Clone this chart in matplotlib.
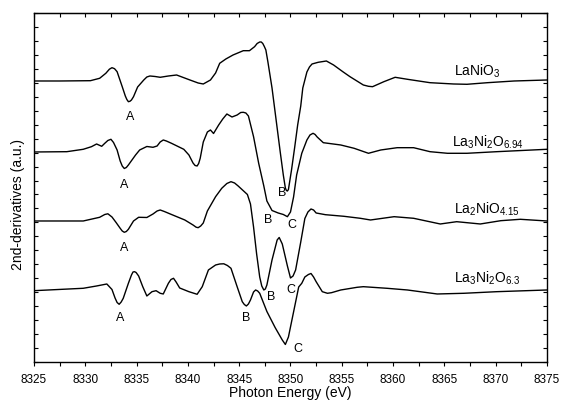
"""
Stacked second-derivative XANES spectra at the Ni K-edge.
Output: out.png
"""

import matplotlib
matplotlib.use("Agg")
import matplotlib.pyplot as plt
from matplotlib.ticker import MultipleLocator

plt.rcParams["font.family"] = ["Liberation Sans", "DejaVu Sans"]
plt.rcParams["mathtext.default"] = "regular"

# ---- data (energy in eV, signal relative to baseline) ----
e_lanio3 = [8325.0, 8327.5, 8330.5, 8331.4, 8332.0, 8332.35, 8332.6, 8332.85, 8333.1,
            8333.6, 8333.9, 8334.05, 8334.2, 8334.35, 8334.5, 8334.7, 8335.1, 8335.7,
            8336.0, 8336.3, 8336.8, 8337.3, 8338.1, 8338.9, 8340.2, 8341.0, 8341.5,
            8342.2, 8342.7, 8343.1, 8343.7, 8344.4, 8345.4, 8346.0, 8346.5, 8346.75,
            8347.0, 8347.15, 8347.3, 8347.45, 8347.6, 8347.8, 8348.2, 8348.6, 8349.0,
            8349.3, 8349.5, 8349.6, 8349.7, 8349.8, 8350.1, 8350.4, 8350.7, 8351.0,
            8351.2, 8351.6, 8351.85, 8352.1, 8352.7, 8353.5, 8354.2, 8355.1, 8355.8,
            8357.1, 8357.6, 8358.0, 8359.1, 8360.2, 8361.4, 8363.6, 8365.9, 8367.2,
            8369.2, 8371.8, 8375.0]
v_lanio3 = [0, 0, 0.3, 2.7, 7.7, 11.8, 13.3, 12.3, 9.3,
            -5.7, -15, -18.5, -20.7, -20.3, -19, -15.7, -6, 1,
            4, 5, 4.5, 3.7, 5, 6, 1, -2, -3,
            1, 8, 17.7, 22, 26, 30.3, 30.3, 34.3, 37.5,
            39, 39, 37.5, 34.5, 31, 19, -7, -39, -71,
            -94, -107, -109.5, -110, -108.5, -89, -67, -44, -25,
            -7, 9, 14, 17, 18.7, 20, 16, 9.3, 4.3,
            -4, -5.3, -5.7, -0.7, 3.7, 1.7, -1.7, -3, -3.3,
            -1.7, 0, 1]

e_la3ni2o694 = [8325.0, 8328.2, 8329.8, 8330.6, 8331.1, 8331.6, 8331.9, 8332.2, 8332.5,
                8332.75, 8333.1, 8333.4, 8333.6, 8333.8, 8334.0, 8334.2, 8334.9, 8335.3,
                8336.0, 8336.6, 8337.0, 8337.3, 8337.6, 8337.9, 8338.4, 8339.6, 8340.1,
                8340.5, 8340.7, 8340.9, 8341.05, 8341.2, 8341.5, 8341.9, 8342.2, 8342.5,
                8343.0, 8343.4, 8343.8, 8344.3, 8344.8, 8345.15, 8345.4, 8345.65, 8345.9,
                8346.4, 8346.9, 8347.4, 8347.7, 8348.2, 8348.8, 8349.3, 8349.7, 8350.0,
                8350.3, 8350.6, 8351.1, 8351.6, 8351.9, 8352.2, 8352.4, 8352.6, 8353.2,
                8354.9, 8356.2, 8357.6, 8358.8, 8360.4, 8362.0, 8363.6, 8365.3, 8367.2,
                8370.1, 8375.0]
v_la3ni2o694 = [0, 0.3, 2.7, 5.3, 8, 5.7, 8.7, 11.5, 12.7,
                9.5, 2, -9, -14, -16.5, -15.5, -13, -3, 2,
                5.5, 4.7, 6, 10, 12, 11, 8.7, 2.7, -3,
                -11, -13.5, -14, -11.5, -6.3, 10, 20, 22, 18.5,
                27, 33, 38, 35, 37, 39.5, 39.7, 39, 36,
                15.3, -11.3, -34, -49, -58.5, -61, -62.5, -64.7, -60,
                -45, -23, -1.3, 12, 17, 18.7, 17.5, 15, 9.3,
                7, 3.7, -1.3, 2, 4.3, 4.3, 0.3, -1.3, -1.3,
                0.3, 2.7]

e_la2nio415 = [8325.0, 8329.8, 8331.4, 8331.9, 8332.2, 8332.6, 8333.0, 8333.4, 8333.6,
               8333.8, 8334.0, 8334.2, 8334.7, 8335.2, 8336.0, 8336.6, 8337.0, 8337.3,
               8337.7, 8338.4, 8339.7, 8340.5, 8340.8, 8341.0, 8341.25, 8341.5, 8341.9,
               8342.7, 8343.3, 8343.8, 8344.2, 8344.55, 8344.9, 8345.8, 8346.1, 8346.4,
               8346.7, 8347.0, 8347.2, 8347.4, 8347.55, 8347.7, 8348.2, 8348.7, 8348.9,
               8349.2, 8349.7, 8350.0, 8350.25, 8350.5, 8351.0, 8351.4, 8351.7, 8352.0,
               8352.25, 8352.5, 8353.4, 8355.2, 8356.8, 8357.8, 8360.1, 8362.0, 8364.6,
               8366.2, 8368.5, 8370.5, 8372.4, 8375.0]
v_la2nio415 = [0, 0, 3.7, 6.5, 7.2, 4, -1.5, -7.3, -10,
               -11.3, -10.5, -8.3, 0, 3.7, 3.5, 7, 10, 11,
               9.5, 6.5, 1, -4, -6.2, -6.7, -5, -2, 10,
               24.3, 32.7, 37.5, 39.3, 38, 35, 26.5, 17, -6,
               -33, -56, -65, -69, -68, -64, -39, -19, -16.5,
               -23, -45, -57, -55, -49, -21, 2.5, 9, 12,
               11, 8, 6.3, 4.7, 2.7, 1, 4.3, 2.7, -3,
               -0.7, -3, 0.3, 1.7, 0]

e_la3ni2o63 = [8325.0, 8329.8, 8331.1, 8332.1, 8332.6, 8332.9, 8333.1, 8333.3, 8333.5,
               8333.7, 8334.2, 8334.5, 8334.65, 8334.8, 8334.95, 8335.2, 8335.6, 8336.0,
               8336.5, 8336.9, 8337.3, 8337.6, 8338.1, 8338.35, 8338.6, 8338.85, 8339.2,
               8340.1, 8340.9, 8341.4, 8342.0, 8342.7, 8343.1, 8343.5, 8343.85, 8344.2,
               8344.8, 8345.3, 8345.5, 8345.7, 8345.9, 8346.1, 8346.4, 8346.6, 8346.8,
               8347.0, 8347.7, 8348.5, 8349.2, 8349.5, 8349.8, 8350.3, 8350.8, 8351.1,
               8351.4, 8351.75, 8352.0, 8352.25, 8352.5, 8352.8, 8353.1, 8353.6, 8354.0,
               8354.9, 8356.5, 8357.1, 8359.4, 8361.4, 8364.3, 8366.9, 8370.1, 8375.0]
v_la3ni2o63 = [0.3, 2.7, 5, 7, 1.5, -7, -11.5, -13.3, -11,
               -7.3, 7.7, 16, 19, 19.3, 18.5, 15, 4.3, -5,
               -0.7, 0.3, -2.3, -3, 7.7, 11.5, 12.7, 9, 3,
               -0.7, -3.3, 4.3, 21, 26, 27, 27.2, 25.5, 22.7,
               4.3, -10.7, -13.5, -15, -13, -9, -1, 1, 0,
               -2.3, -20.5, -36.5, -49, -53.5, -46, -21, 4, 7.7,
               14, 16.5, 17.5, 14, 9.3, 4.3, -0.7, -2.3, -1.7,
               1, 3.7, 4.3, 2.7, 1, -3, -2.3, -0.7, 1]

names = [r"LaNiO$_3$", r"La$_3$Ni$_2$O$_{6.94}$",
         r"La$_2$NiO$_{4.15}$", r"La$_3$Ni$_2$O$_{6.3}$"]
energies = [e_lanio3, e_la3ni2o694, e_la2nio415, e_la3ni2o63]
values = [v_lanio3, v_la3ni2o694, v_la2nio415, v_la3ni2o63]

# vertical offsets of the stacked traces
offsets = [281, 210, 141, 71]
name_pos = [(8365.9, 286), (8365.7, 215), (8365.9, 148.7), (8365.9, 79.7)]

# peak letters: (letter, energy, y)
peak_labels = [
    ("A", 8334.4, 245), ("B", 8349.2, 169),
    ("A", 8333.8, 177), ("B", 8347.8, 142), ("C", 8350.1, 137),
    ("A", 8333.8, 114), ("B", 8348.1, 65), ("C", 8350.0, 72),
    ("A", 8333.4, 44), ("B", 8345.7, 44), ("C", 8350.7, 13),
]


def main() -> None:
    fig = plt.figure(figsize=(5.61, 4.01), dpi=100)
    ax = fig.add_axes([0.0606, 0.0973, 0.9144, 0.8703])

    for e, v, off in zip(energies, values, offsets):
        ax.plot(e, [off + x for x in v], color="black", lw=1.0)

    for name, (x, y) in zip(names, name_pos):
        ax.text(x, y, name, fontsize=10, ha="left", va="baseline")

    for letter, x, y in peak_labels:
        ax.text(x, y, letter, fontsize=9, ha="center", va="center")

    ax.set_xlim(8325, 8375)
    ax.set_ylim(0, 349)
    ax.xaxis.set_major_locator(MultipleLocator(5))
    ax.xaxis.set_minor_locator(MultipleLocator(2.5))
    ax.yaxis.set_major_locator(MultipleLocator(349 / 25))
    ax.tick_params(axis="x", which="both", direction="out", length=3,
                   width=0.8, top=False, labelsize=8.5, pad=6)
    ax.tick_params(axis="y", which="both", direction="in", length=3,
                   width=0.8, right=True, labelleft=False)

    # top edge: inward ticks every 2.5 eV
    top = ax.secondary_xaxis("top")
    top.xaxis.set_major_locator(MultipleLocator(2.5))
    top.tick_params(direction="in", length=3, width=0.8, labeltop=False)

    for s in ax.spines.values():
        s.set_linewidth(1.0)

    ax.set_xlabel("Photon Energy (eV)", fontsize=10, labelpad=0)
    ax.set_ylabel("2nd-derivatives (a.u.)", fontsize=10)
    ax.yaxis.set_label_coords(-0.018, 0.45)

    fig.savefig("out.png", dpi=100)


if __name__ == "__main__":
    main()
